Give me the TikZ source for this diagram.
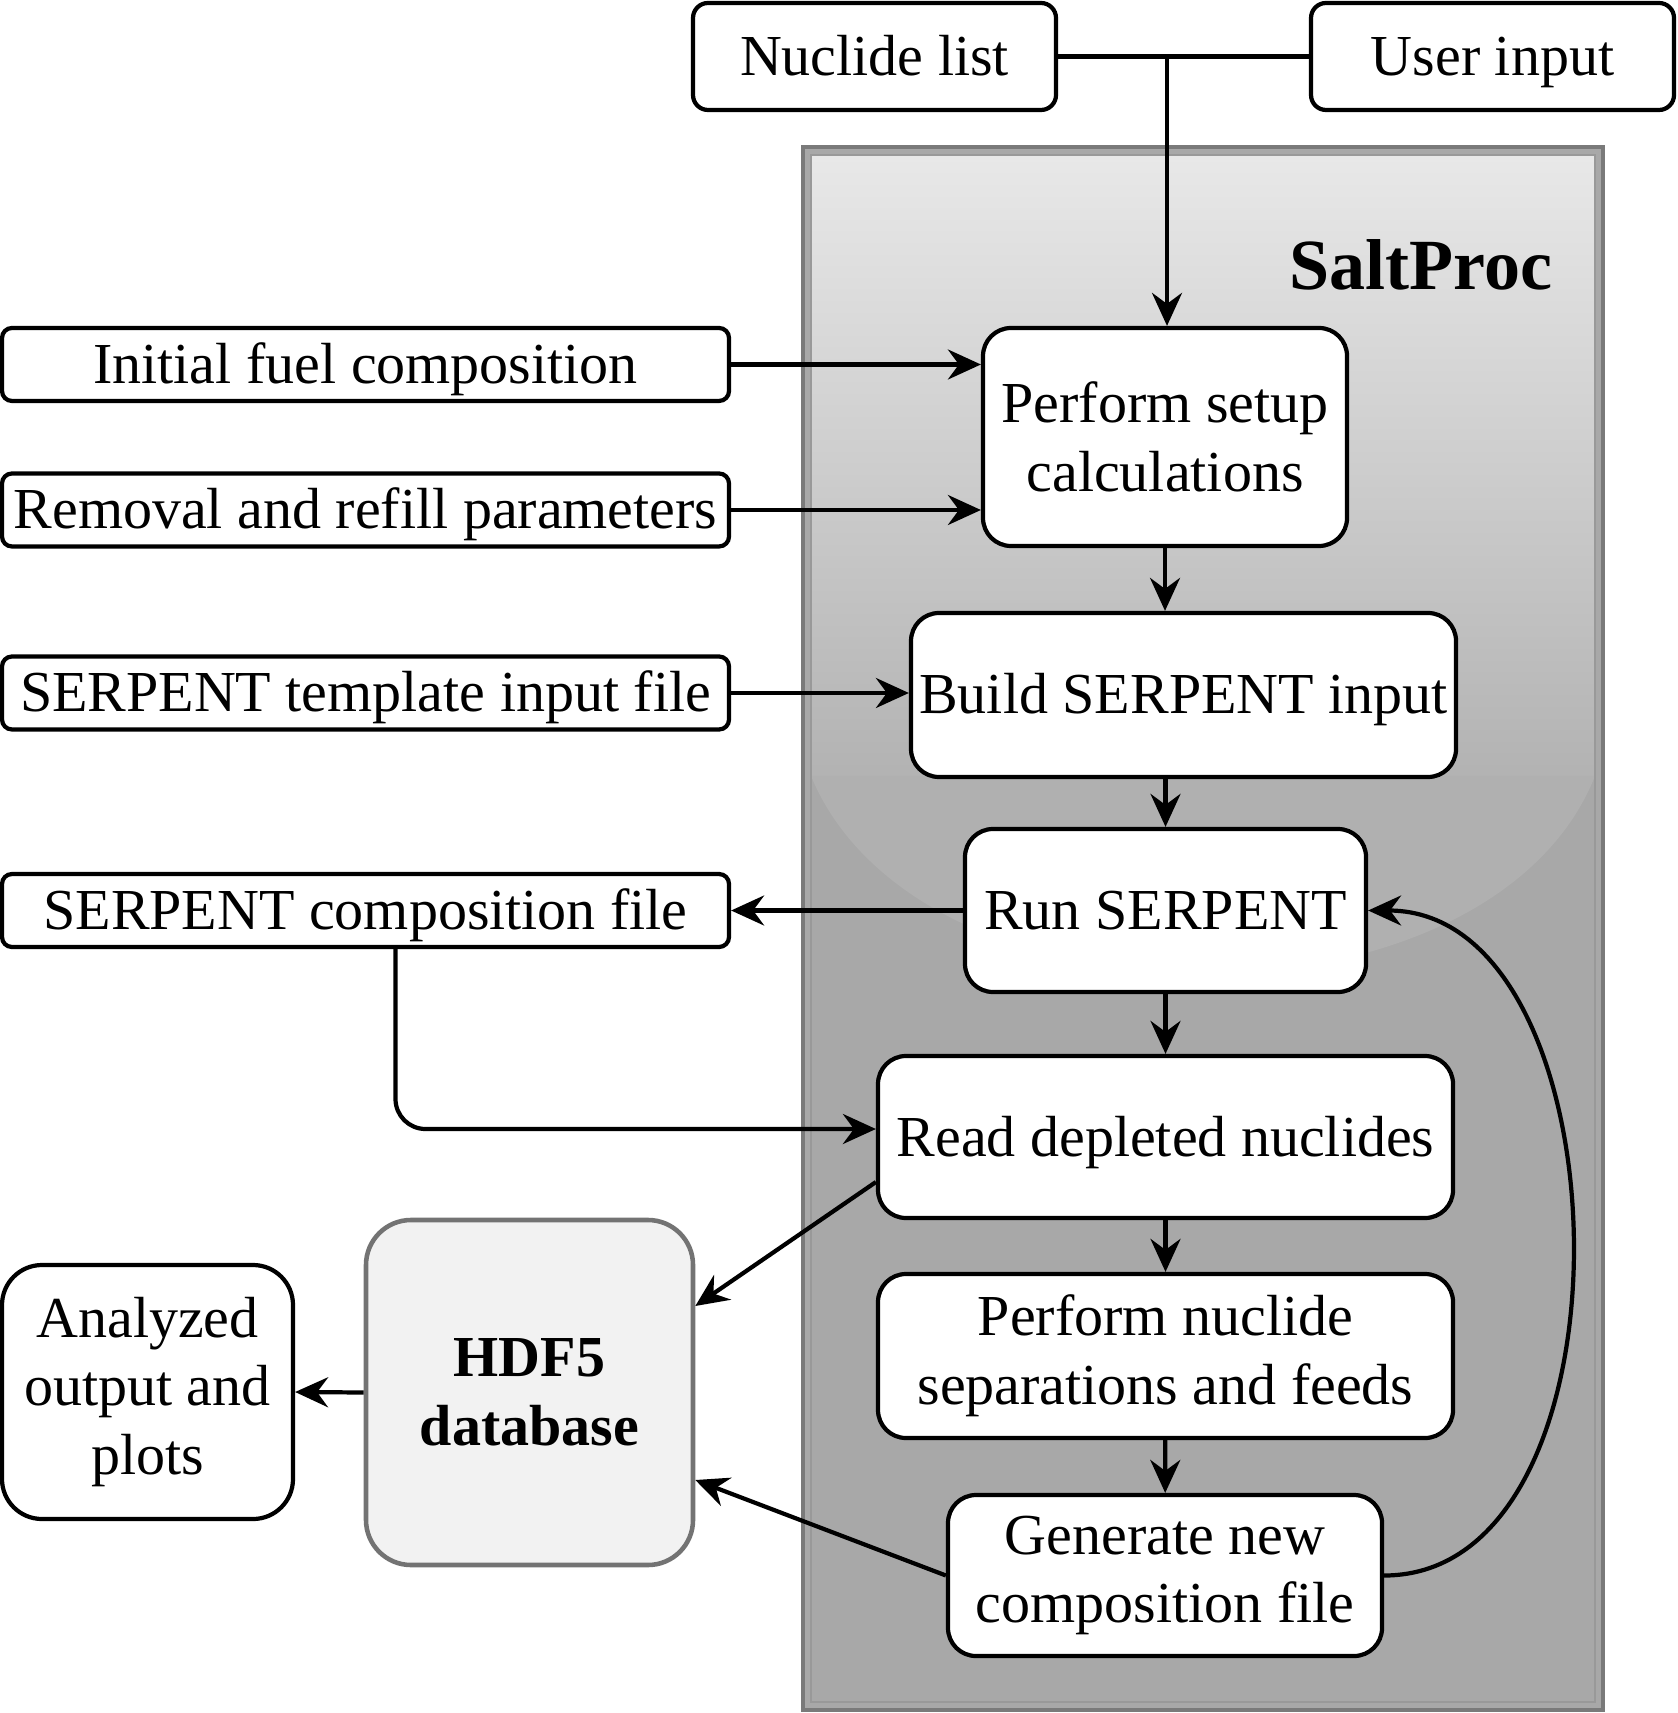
\documentclass[tikz,border=0pt]{standalone}
\usepackage{fontspec}
\setmainfont{Liberation Serif}
\usetikzlibrary{arrows.meta}
\begin{document}
\begin{tikzpicture}[>={Stealth[length=3.3mm,width=3mm,inset=1.1mm]},
		font=\fontsize{16.5}{19.5}\selectfont,
		oneline/.style={text height=0.5cm,text depth=0.12cm},
		topbox/.style={draw,line width=1.2pt,rounded corners=0.15cm,fill=white,minimum width=3.63cm,minimum height=1.07cm,inner sep=0pt,oneline},
		inbox/.style={draw,line width=1.2pt,rounded corners=0.1cm,fill=white,minimum width=7.27cm,minimum height=0.73cm,inner sep=0pt,oneline},
		proc/.style={draw,line width=1.2pt,rounded corners=0.28cm,fill=white,align=center,inner sep=0pt},
		flow/.style={->,line width=1.2pt}]
		\useasboundingbox (0,0) rectangle (16.77,-17.13);
		% SaltProc frame
		\fill[black!34] (8.03,-1.47) rectangle (16.03,-17.10);
		\shade[top color=black!9,bottom color=black!30] (8.11,-1.55) rectangle (15.95,-7.76);
		\fill[black!31] (8.11,-7.76) .. controls (9.2,-10.4) and (14.9,-10.4) .. (15.95,-7.76) -- cycle;
		\draw[black!40,line width=0.5pt] (8.11,-1.55) rectangle (15.95,-17.02);
		\draw[black!52,line width=1.4pt] (8.03,-1.47) rectangle (16.03,-17.10);
		\node[font=\fontsize{20.5}{24}\selectfont\bfseries] (saltproc) at (14.21,-2.65) {SaltProc};
		% inputs on top
		\node[topbox] (nuclide) at (8.745,-0.565) {Nuclide list};
		\node[topbox] (user) at (14.925,-0.565) {User input};
		\coordinate (jn) at (11.67,-0.565);
		% process steps
		\node[proc,minimum width=3.64cm,minimum height=2.18cm] (setup) at (11.65,-4.37) {Perform setup\\calculations};
		\node[proc,oneline,minimum width=5.45cm,minimum height=1.64cm] (build) at (11.835,-6.95) {Build SERPENT input};
		\node[proc,oneline,minimum width=4.01cm,minimum height=1.63cm] (run) at (11.655,-9.105) {Run SERPENT};
		\node[proc,oneline,minimum width=5.75cm,minimum height=1.62cm] (read) at (11.655,-11.37) {Read depleted nuclides};
		\node[proc,minimum width=5.75cm,minimum height=1.64cm] (sep) at (11.655,-13.56) {Perform nuclide\\separations and feeds};
		\node[proc,minimum width=4.34cm,minimum height=1.61cm] (gen) at (11.65,-15.755) {Generate new\\composition file};
		% files on the left
		\node[inbox] (fuel) at (3.655,-3.645) {Initial fuel composition};
		\node[inbox] (removal) at (3.655,-5.10) {Removal and refill parameters};
		\node[inbox] (template) at (3.655,-6.93) {SERPENT template input file};
		\node[inbox] (compfile) at (3.655,-9.105) {SERPENT composition file};
		\node[proc,draw=black!55,line width=1.3pt,fill=black!5,rounded corners=0.45cm,minimum width=3.27cm,minimum height=3.45cm,font=\fontsize{16.5}{19.5}\selectfont\bfseries] (hdf) at (5.295,-13.925) {HDF5\\database};
		\node[proc,rounded corners=0.4cm,minimum width=2.91cm,minimum height=2.54cm] (analyzed) at (1.475,-13.92) {Analyzed\\output and\\plots};
		% connectors
		\draw[line width=1.2pt] (nuclide) -- (user);
		\draw[flow] (jn) -- (jn |- setup.north);
		\draw[flow] (fuel) -- (fuel -| setup.west);
		\draw[flow] (removal) -- (removal -| setup.west);
		\draw[flow] (template) -- (template -| build.west);
		\draw[flow] (setup.south) -- (setup.south |- build.north);
		\draw[flow] (run.north |- build.south) -- (run.north);
		\draw[flow] (run) -- (read);
		\draw[flow] (read) -- (sep);
		\draw[flow] (sep) -- (gen);
		\draw[flow] (run.west) -- (compfile.east);
		\draw[flow,rounded corners=0.3cm] ([xshift=0.3cm]compfile.south) |- ([yshift=0.08cm]read.west);
		\draw[flow] ([yshift=-0.45cm]read.west) -- ([yshift=0.865cm]hdf.east);
		\draw[flow] (gen.west) -- ([yshift=-0.875cm]hdf.east);
		\draw[flow] (hdf.west) -- (analyzed.east);
		\draw[flow] (gen.east) to[out=0,in=0] (run.east);
	\end{tikzpicture}
\end{document}
